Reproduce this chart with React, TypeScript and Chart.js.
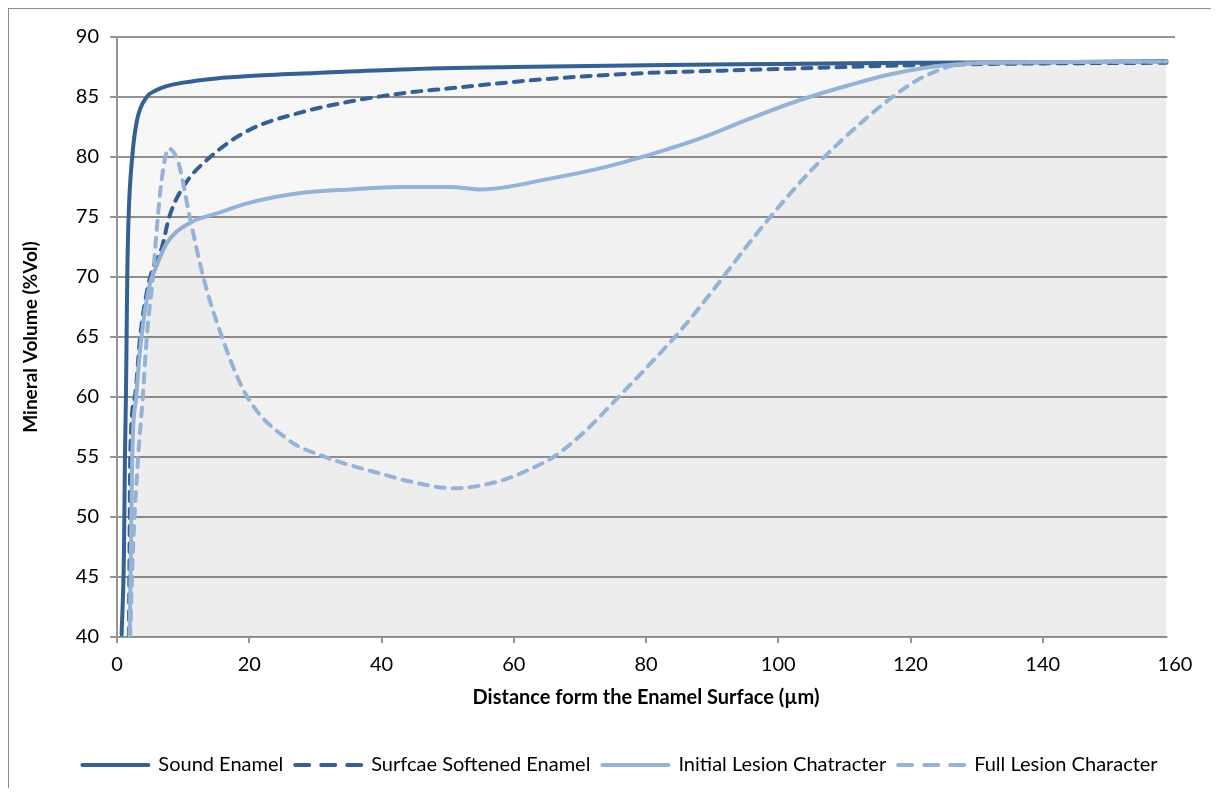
import { useEffect, useRef } from 'react';
import { Chart, registerables } from 'chart.js';

Chart.register(...registerables);

// Mineral volume profiles: [distance from surface (µm), mineral volume (%Vol)]
const soundEnamel: [number, number][] = [
  [0.7, 40.2], [1.05, 47], [1.2, 55], [1.35, 60], [1.45, 65], [1.55, 70], [1.75, 75],
  [2.3, 80], [3.0, 83], [4.5, 85], [5.7, 85.5], [7.5, 85.9], [10, 86.2], [15, 86.55],
  [20, 86.75], [30, 87.0], [43, 87.3], [60, 87.5], [80, 87.65], [100, 87.75],
  [120, 87.85], [140, 87.9], [158.7, 88.0],
];

const surfaceSoftened: [number, number][] = [
  [1.8, 40], [1.9, 47], [2.0, 55], [2.7, 60], [3.5, 65], [4.6, 69], [5.3, 70.5],
  [6.8, 72.5], [7.9, 75], [10, 77.5], [14.1, 80], [20, 82.25], [27.7, 83.7], [35, 84.6],
  [43, 85.3], [50, 85.7], [65, 86.5], [80, 87.0], [95, 87.25], [110, 87.5],
  [125, 87.7], [140, 87.8], [158.7, 87.85],
];

const initialLesion: [number, number][] = [
  [1.9, 40], [2.1, 47], [2.3, 55], [2.9, 60], [3.7, 65], [5.0, 69.5], [5.75, 70.6],
  [7.5, 72.8], [11, 74.5], [15.1, 75.3], [20.1, 76.2], [27.7, 77.0], [35.2, 77.3],
  [42.8, 77.5], [50.4, 77.5], [55.2, 77.3], [65.5, 78.2], [73, 79.05], [80.6, 80.2],
  [88.2, 81.55], [95.7, 83.2], [103.3, 84.75], [110.8, 86.0], [117, 86.9],
  [124.5, 87.6], [132, 87.85], [158.7, 87.95],
];

const fullLesion: [number, number][] = [
  [2.0, 40], [2.4, 47], [3.2, 55], [3.9, 60], [4.5, 65], [5.4, 69.8], [6.0, 73.9],
  [6.75, 78.1], [7.8, 80.7], [9.3, 79.5], [11.0, 75.0], [13.05, 70.0], [15.3, 65.9],
  [19.5, 60.2], [26, 56.4], [31.5, 55], [36, 54.2], [40, 53.6], [44, 53.0],
  [50.8, 52.4], [57.9, 53.0], [62.9, 54.1], [66, 55], [70.5, 57.0], [75.5, 59.8],
  [80, 62.4], [85, 65.4], [90, 68.8], [95, 72.4], [100, 75.8], [105, 78.9],
  [110, 81.6], [116.8, 84.8], [122, 86.7], [128.6, 87.8], [140, 87.9], [158.7, 87.95],
];

const seriesNames = [
  'Sound Enamel',
  'Surfcae Softened Enamel',
  'Initial Lesion Chatracter',
  'Full Lesion Character',
];

const xTicks = [0, 20, 40, 60, 80, 100, 120, 140, 160];
const yTicks = [40, 45, 50, 55, 60, 65, 70, 75, 80, 85, 90];
const lastDistance = 158.7;

const DARK = '#376092';
const LIGHT = '#95B3D7';
const GRID = '#959595';
const FONT = 'Lato';

const toPoints = (rows: [number, number][]) => rows.map(([x, y]) => ({ x, y }));

// The plot surface stops at the last measured distance: blank out the strip
// of gridlines and axis line beyond it (the top gridline stays).
const plotEdgeMask = {
  id: 'plotEdgeMask',
  beforeDatasetsDraw(chart: any) {
    const { ctx, chartArea, scales } = chart;
    const x0 = scales.x.getPixelForValue(lastDistance) + 1;
    const y0 = scales.y.getPixelForValue(89.4);
    ctx.save();
    ctx.fillStyle = '#ffffff';
    ctx.fillRect(x0, y0, chartArea.right + 3 - x0, chartArea.bottom + 2 - y0);
    ctx.restore();
  },
};

// Nudge the legend row so it sits centred under the whole figure.
const legendShift = {
  id: 'legendShift',
  afterLayout(chart: any) {
    const lg = chart.legend;
    if (lg) {
      lg.left += 28;
      lg.right += 28;
    }
  },
};

export default function App() {
  const canvasRef = useRef<HTMLCanvasElement>(null);

  useEffect(() => {
    const canvas = canvasRef.current;
    if (!canvas) return;

    const makeSet = (
      label: string,
      rows: [number, number][],
      color: string,
      dashed: boolean,
      fillAlpha: number,
      order: number,
    ) => ({
      label,
      data: toPoints(rows),
      borderColor: color,
      backgroundColor: fillAlpha > 0 ? `rgba(0,0,0,${fillAlpha})` : 'rgba(0,0,0,0)',
      fill: fillAlpha > 0 ? 'start' : false,
      borderWidth: 4,
      borderDash: dashed ? [9, 8] : [],
      borderCapStyle: 'round' as const,
      borderJoinStyle: 'round' as const,
      pointRadius: 0,
      pointHoverRadius: 0,
      cubicInterpolationMode: 'monotone' as const,
      order,
    });

    const chart = new Chart(canvas, {
      type: 'line',
      data: {
        datasets: [
          makeSet(seriesNames[0], soundEnamel, DARK, false, 0.03, 3),
          makeSet(seriesNames[1], surfaceSoftened, DARK, true, 0, 2),
          makeSet(seriesNames[2], initialLesion, LIGHT, false, 0.026, 1),
          makeSet(seriesNames[3], fullLesion, LIGHT, true, 0.021, 0),
        ] as any,
      },
      options: {
        animation: false,
        responsive: false,
        events: [],
        layout: { padding: { top: 28, right: 40, bottom: 3, left: 0 } },
        scales: {
          x: {
            type: 'linear',
            min: 0,
            max: 160,
            afterBuildTicks: (scale: any) => {
              scale.ticks = xTicks.map((value) => ({ value }));
            },
            afterFit: (scale: any) => {
              scale.height = 106;
            },
            ticks: {
              color: '#000',
              font: { family: FONT, size: 20 },
              padding: 10,
              maxRotation: 0,
              autoSkip: false,
            },
            grid: {
              drawOnChartArea: false,
              drawTicks: true,
              tickLength: 6,
              lineWidth: 2,
              color: (ctx: any) =>
                ctx.tick && ctx.tick.value === 160 ? 'rgba(0,0,0,0)' : GRID,
            },
            border: { color: GRID, width: 2 },
            title: {
              display: true,
              text: 'Distance form the Enamel Surface (µm)',
              color: '#000',
              font: { family: FONT, size: 20, weight: 'bold' },
              padding: { top: 0, bottom: 33 },
            },
          },
          y: {
            type: 'linear',
            min: 40,
            max: 90,
            afterBuildTicks: (scale: any) => {
              scale.ticks = yTicks.map((value) => ({ value }));
            },
            afterFit: (scale: any) => {
              scale.width = 108;
            },
            ticks: {
              color: '#000',
              font: { family: FONT, size: 20 },
              padding: 11,
            },
            grid: {
              drawTicks: true,
              tickLength: 7,
              lineWidth: 2,
              color: GRID,
            },
            border: { color: GRID, width: 2 },
            title: {
              display: true,
              text: 'Mineral Volume (%Vol)',
              color: '#000',
              font: { family: FONT, size: 19, weight: 'bold' },
              padding: { top: 10, bottom: 0 },
            },
          },
        },
        plugins: {
          tooltip: { enabled: false },
          legend: {
            position: 'bottom',
            labels: {
              color: '#000',
              font: { family: FONT, size: 20 },
              usePointStyle: true,
              pointStyle: 'line',
              pointStyleWidth: 66,
              padding: 12,
              sort: (a: any, b: any) => a.datasetIndex - b.datasetIndex,
              generateLabels: (c: any) =>
                (Chart.defaults.plugins.legend.labels.generateLabels as any)(c).map(
                  (item: any) => {
                    const ds = c.data.datasets[item.datasetIndex];
                    const dashed = ds.borderDash && ds.borderDash.length > 0;
                    return {
                      ...item,
                      strokeStyle: ds.borderColor,
                      lineWidth: 4,
                      lineDash: dashed ? [14, 12] : [],
                      lineCap: 'round',
                    };
                  },
                ),
            },
          },
        },
      },
      plugins: [plotEdgeMask, legendShift],
    } as any);

    return () => chart.destroy();
  }, []);

  return (
    <div
      style={{
        width: 1208,
        height: 780,
        boxSizing: 'border-box',
        border: '1px solid #8c8c8c',
        borderBottom: 'none',
        background: '#ffffff',
      }}
    >
      <canvas
        ref={canvasRef}
        width={1206}
        height={779}
        style={{ display: 'block', width: 1206, height: 779 }}
      />
    </div>
  );
}
